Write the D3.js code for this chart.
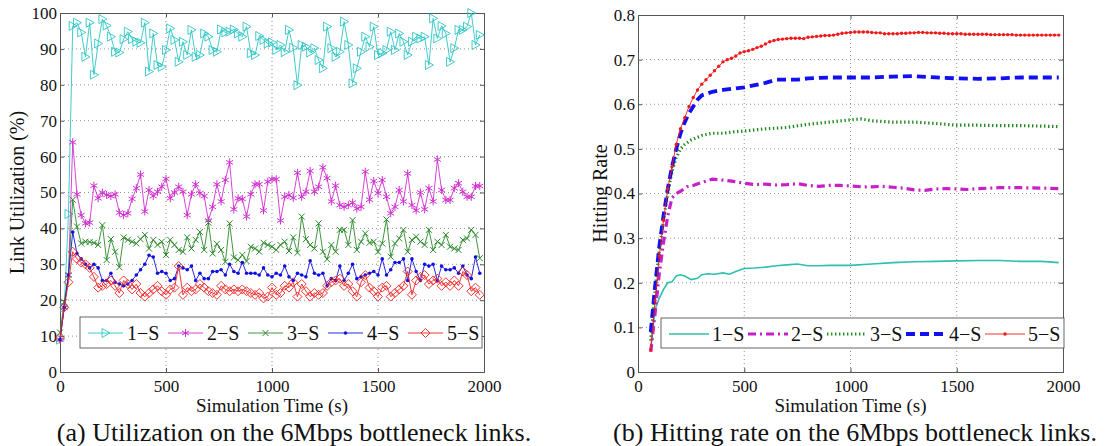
<!DOCTYPE html>
<html>
<head>
<meta charset="utf-8">
<script src="https://cdn.jsdelivr.net/npm/d3@7"></script>
<style>
  body { margin: 0; background: #fff; }
  svg text { font-family: "Liberation Serif", "Times New Roman", serif; fill: #111; }
</style>
</head>
<body>
<svg id="fig" width="1119" height="446"></svg>
<script>
// ---- (a) link utilization, one sample every 20 s ----
let timeA = d3.range(0, 2000, 20);

let util1S = [9, 18, 44,
  96.4, 97.3, 94.6, 87.8, 97.3, 82.8, 91.5, 98.3, 96.5, 93.4, 89.2, 89, 92.7, 94.8, 92.7, 92, 91.7, 97.3, 83.7, 94.3, 85.5, 85,
  89.7, 95.7, 92.5, 86.4, 92, 88.3, 95.3, 87.8, 88.3, 94.3, 93.4, 89.7, 89.2, 95.4, 94.6, 94.8, 95.4, 94.3, 93.4, 96.2, 88.8, 88.3,
  93.6, 92.5, 91.5, 91.8, 89.7, 91.1, 89.1, 95.3, 90.3, 79.9, 91.1, 90.6, 89, 90.2, 86.9, 84.6, 96.2, 90.2, 87.8, 89.2, 97.6, 91.1,
  80.4, 84.6, 89.2, 93.4, 90.6, 96.2, 88.3, 88.8, 89.7, 94.8, 89.7, 94.3, 92, 88.3, 92, 93.4, 92.9, 93.4, 85.5, 98.5, 92.9, 96.4,
  94.3, 86.4, 90.2, 95.3, 95.3, 96.2, 100, 91.1, 93.9];

let util2S = [9, 18, 27, 64, 49.5, 43.7, 41.4, 41.6, 51.9, 48.4, 50, 49.3, 49, 49.5, 44.4, 43.7, 44.2, 48.2, 51.2, 55,
  44.7, 50.7, 49, 50.2, 51.6, 53.8, 48.4, 50, 51.6, 50.2, 43.7, 49.5, 52.3, 49.8, 49, 42.2, 46, 52.3, 47.5, 53.5,
  58.4, 45.3, 48.4, 48.2, 43.3, 49.5, 52.3, 52.3, 45, 53, 53.7, 53.7, 42.2, 48.8, 49.3, 48.5, 55.5, 48.8, 50.2, 56,
  50.2, 51.6, 57, 54, 47.5, 51.9, 46.5, 46, 46.5, 47.2, 45.5, 46, 55.8, 48, 53.2, 49.8, 53.5, 48.8, 44.2, 46,
  50.7, 47.5, 55.3, 46.5, 45, 50, 45.3, 51.2, 47.5, 59.2, 50.7, 47.9, 47.9, 51.2, 52.6, 50.2, 48.8, 48.8, 51.8, 51.8];

let util3S = [11, 19.5, 27, 48, 40.5, 35.8, 36.3, 36.2, 36, 35.4, 40.9, 31.2, 37, 33.5, 29.2, 37.5, 36.8, 36.3, 35.8, 37,
  38.2, 34.4, 36.8, 35.4, 36.3, 32.6, 36.8, 35.4, 34, 33.5, 37.5, 34.4, 36.8, 39, 34, 41.6, 33, 35.7, 34, 30.7,
  41.4, 31.9, 31.2, 32.6, 30.9, 34.9, 34.4, 33.5, 36, 35.4, 34.9, 34, 35.4, 36.3, 33.7, 37.5, 33.2, 43.3, 37, 35.4,
  34.4, 41.4, 33.5, 31.4, 35.4, 33.5, 39.6, 39.6, 35.4, 42.3, 34, 36.3, 38.6, 36, 36.3, 33.5, 35.8, 42.5, 32.1, 35.8,
  37.2, 39.6, 33.5, 36.8, 37.7, 36.3, 35.4, 39.6, 34, 36.3, 35.4, 38.2, 34.9, 34.4, 34, 36.8, 37.2, 39.6, 38.2, 31.7];

let util4S = [9, 18, 27, 39, 33, 31.5, 30, 29, 30, 29, 25.5, 25.5, 27.5, 25, 24.5, 24, 24.5, 25.5, 27, 28.5,
  30, 32.5, 32, 27.5, 28, 27.5, 25.5, 26, 29.5, 29, 28.5, 29.5, 25.5, 27.5, 26, 26, 28, 28, 28.5, 27,
  30, 28, 27.5, 30.5, 27.5, 27.5, 27.5, 27, 29, 27, 26.5, 27.5, 27, 29.5, 26.5, 25.5, 27.5, 27, 26.5, 31,
  27.5, 27, 27.5, 24, 26, 25.5, 29.5, 25.5, 27.5, 30, 26, 26.5, 27, 27.5, 28, 27, 31.5, 27, 28.5, 30.5,
  30.5, 31.5, 25.5, 31.5, 28, 25.5, 30, 29.5, 30, 25.5, 29.5, 28.5, 28.5, 29, 27.5, 29.5, 27, 26, 32, 27.5];

let util5S = [9.5, 18, 25, 33.5, 31.5, 30.5, 30, 29, 26.5, 23.5, 24, 24.5, 25.5, 24, 22, 25.5, 24.5, 23, 24.5, 22,
  21, 22, 23, 24, 22.5, 21.5, 23, 23.5, 29.5, 21.5, 23.5, 22.5, 23, 24.5, 23.5, 22.5, 22, 21.5, 24, 23,
  22.5, 23, 22.5, 23, 22.5, 22, 21.5, 22, 20.5, 21, 23.5, 21.5, 22, 24, 23.5, 25, 21, 24.5, 22.5, 21,
  22, 21.5, 22, 24, 25, 25.5, 26, 24, 24.5, 22.5, 21, 25, 27, 23.5, 22.5, 21, 23.5, 24, 21, 22,
  23, 24, 28, 21.5, 25.5, 26.5, 27, 24.5, 25.5, 26, 24, 25, 24, 25.5, 24, 28, 27, 22.5, 23.5, 21.5];

// ---- (b) hitting rate ----
let timeB5 = d3.range(60, 2000, 20);
let hit5S = [0.05, 0.16, 0.26, 0.34, 0.41, 0.46, 0.51, 0.545, 0.57, 0.595, 0.615, 0.632, 0.645, 0.655, 0.665, 0.675, 0.685, 0.695,
  0.70, 0.703, 0.708, 0.715, 0.718, 0.72, 0.723, 0.727, 0.73, 0.735, 0.74, 0.743, 0.745, 0.746, 0.747, 0.748, 0.748, 0.748,
  0.747, 0.75, 0.751, 0.752, 0.753, 0.754, 0.754, 0.755, 0.757, 0.759, 0.76, 0.761, 0.762, 0.762, 0.762, 0.762, 0.761, 0.76,
  0.76, 0.758, 0.758, 0.758, 0.758, 0.759, 0.759, 0.76, 0.76, 0.761, 0.761, 0.76, 0.76, 0.76, 0.759, 0.759, 0.758, 0.758,
  0.758, 0.758, 0.757, 0.757, 0.757, 0.757, 0.757, 0.757, 0.756, 0.756, 0.756, 0.756, 0.756, 0.756, 0.755, 0.755, 0.755,
  0.755, 0.755, 0.755, 0.755, 0.755, 0.755, 0.755, 0.755];

let timeB4 = [60, 80, 100, 120, 140, 160, 180, 200, 220, 240, 260, 280, 300, 350, 400, 450, 500, 550, 600, 650, 700, 750, 800, 900,
  1000, 1100, 1200, 1300, 1400, 1500, 1600, 1700, 1800, 1900, 1980];
let hit4S = [0.09, 0.19, 0.28, 0.35, 0.41, 0.46, 0.50, 0.535, 0.56, 0.58, 0.595, 0.61, 0.62, 0.628, 0.632, 0.635, 0.638, 0.643,
  0.648, 0.655, 0.655, 0.655, 0.658, 0.66, 0.66, 0.66, 0.662, 0.663, 0.66, 0.658, 0.657, 0.658, 0.66, 0.66, 0.66];

let timeB3 = [60, 80, 100, 120, 140, 160, 180, 200, 220, 250, 300, 350, 400, 450, 500, 600, 700, 800, 900, 1000, 1050, 1100,
  1200, 1300, 1400, 1500, 1600, 1700, 1800, 1900, 1980];
let hit3S = [0.07, 0.18, 0.27, 0.34, 0.40, 0.45, 0.48, 0.50, 0.51, 0.52, 0.53, 0.535, 0.535, 0.538, 0.54, 0.545, 0.548, 0.555,
  0.56, 0.565, 0.567, 0.563, 0.56, 0.56, 0.557, 0.553, 0.553, 0.552, 0.552, 0.551, 0.55];

let timeB2 = [60, 80, 100, 120, 140, 160, 180, 200, 230, 260, 300, 350, 400, 450, 500, 550, 600, 650, 700, 750, 800, 850, 900,
  950, 1000, 1050, 1100, 1150, 1200, 1250, 1300, 1350, 1400, 1450, 1500, 1550, 1600, 1700, 1800, 1900, 1980];
let hit2S = [0.045, 0.13, 0.22, 0.29, 0.35, 0.39, 0.40, 0.405, 0.415, 0.418, 0.425, 0.432, 0.43, 0.427, 0.423, 0.42, 0.421,
  0.419, 0.42, 0.422, 0.418, 0.416, 0.418, 0.418, 0.417, 0.415, 0.415, 0.416, 0.414, 0.412, 0.408, 0.407, 0.41, 0.411, 0.41,
  0.409, 0.411, 0.413, 0.413, 0.412, 0.411];

let timeB1 = [60, 80, 100, 120, 140, 160, 180, 200, 220, 250, 280, 300, 330, 360, 400, 430, 460, 500, 550, 600, 650, 700, 750,
  800, 850, 900, 1000, 1100, 1200, 1300, 1400, 1500, 1600, 1700, 1800, 1900, 1980];
let hit1S = [0.05, 0.14, 0.165, 0.185, 0.2, 0.202, 0.215, 0.218, 0.215, 0.207, 0.21, 0.218, 0.22, 0.219, 0.222, 0.219, 0.225,
  0.232, 0.233, 0.235, 0.238, 0.24, 0.242, 0.238, 0.238, 0.239, 0.239, 0.242, 0.245, 0.247, 0.248, 0.249, 0.25, 0.25, 0.248,
  0.248, 0.245];

let seriesNames = ["1\u2212S", "2\u2212S", "3\u2212S", "4\u2212S", "5\u2212S"];
let xTicks = [0, 500, 1000, 1500, 2000];
let yTicksA = d3.range(0, 101, 10);
let yTicksB = [0, 0.1, 0.2, 0.3, 0.4, 0.5, 0.6, 0.7, 0.8];

let svg = d3.select("#fig");

// draws the box, grid, ticks and labels of one panel, returns scales
function panel(box, yDomain, yTicks, yFmt, yLabel, labelGap, caption) {
  let x = d3.scaleLinear().domain([0, 2000]).range([box.left, box.right]);
  let y = d3.scaleLinear().domain(yDomain).range([box.bottom, box.top]);
  let g = svg.append("g");

  // grid
  g.selectAll(".gx").data(xTicks.slice(1, -1)).enter().append("line")
    .attr("x1", d => x(d)).attr("x2", d => x(d))
    .attr("y1", box.top).attr("y2", box.bottom)
    .attr("stroke", "#777").attr("stroke-width", 0.8).attr("stroke-dasharray", "1,3");
  g.selectAll(".gy").data(yTicks.slice(1, -1)).enter().append("line")
    .attr("y1", d => y(d)).attr("y2", d => y(d))
    .attr("x1", box.left).attr("x2", box.right)
    .attr("stroke", "#777").attr("stroke-width", 0.8).attr("stroke-dasharray", "1,3");

  // axes, ticks pointing inward
  let ax = g.append("g").attr("transform", `translate(0,${box.bottom})`)
    .call(d3.axisBottom(x).tickValues(xTicks).tickSize(-4).tickPadding(8).tickFormat(d3.format("d")));
  let axT = g.append("g").attr("transform", `translate(0,${box.top})`)
    .call(d3.axisTop(x).tickValues(xTicks).tickSize(-4).tickFormat(""));
  let ay = g.append("g").attr("transform", `translate(${box.left},0)`)
    .call(d3.axisLeft(y).tickValues(yTicks).tickSize(-4).tickPadding(3).tickFormat(yFmt));
  let ayR = g.append("g").attr("transform", `translate(${box.right},0)`)
    .call(d3.axisRight(y).tickValues(yTicks).tickSize(-4).tickFormat(""));
  [ax, axT, ay, ayR].forEach(a => {
    a.select(".domain").attr("stroke", "#555");
    a.selectAll(".tick line").attr("stroke", "#555");
    a.selectAll("text").attr("font-size", 17).attr("font-family", "Liberation Serif").attr("fill", "#111");
  });

  g.append("text").attr("x", (box.left + box.right) / 2).attr("y", box.bottom + 40)
    .attr("text-anchor", "middle").attr("font-size", 19).text("Simulation Time (s)");
  g.append("text")
    .attr("transform", `translate(${box.left - labelGap},${(box.top + box.bottom) / 2}) rotate(-90)`)
    .attr("text-anchor", "middle").attr("font-size", 20).text(yLabel);
  g.append("text").attr("x", caption.x).attr("y", 441)
    .attr("text-anchor", "middle").attr("font-size", 26).text(caption.text);
  return { x, y };
}

// ---------- panel (a) ----------
let boxA = { left: 60, right: 484, top: 13, bottom: 372 };
let pa = panel(boxA, [0, 100], yTicksA, d3.format("d"), "Link Utilization (%)", 36,
  { x: 294, text: "(a) Utilization on the 6Mbps bottleneck links." });

let colA = ["#2cc6c6", "#d030d0", "#2a8a2a", "#1010e0", "#f02020"];
let valsA = [util1S, util2S, util3S, util4S, util5S];

function marker(sel, k, color) {
  if (k === 0) {
    sel.append("path").attr("d", "M-3.5,-4.5 L4.5,0 L-3.5,4.5 Z")
      .attr("fill", "none").attr("stroke", color).attr("stroke-width", 0.9);
  } else if (k === 1) {
    sel.append("path").attr("d", "M0,-4 L0,4 M-3.5,-2 L3.5,2 M-3.5,2 L3.5,-2")
      .attr("stroke", color).attr("stroke-width", 1);
  } else if (k === 2) {
    sel.append("path").attr("d", "M-3,-3 L3,3 M-3,3 L3,-3")
      .attr("stroke", color).attr("stroke-width", 1);
  } else if (k === 3) {
    sel.append("circle").attr("r", 1.8).attr("fill", color);
  } else {
    sel.append("path").attr("d", "M0,-4.5 L4.5,0 L0,4.5 L-4.5,0 Z")
      .attr("fill", "none").attr("stroke", color).attr("stroke-width", 0.9);
  }
}

let lineA = d3.line().x((d, i) => pa.x(timeA[i])).y(d => pa.y(d));
valsA.forEach((vals, k) => {
  let g = svg.append("g");
  g.append("path").datum(vals).attr("d", lineA)
    .attr("fill", "none").attr("stroke", colA[k]).attr("stroke-width", 0.9);
  g.selectAll("g.m").data(vals).enter().append("g")
    .attr("transform", (d, i) => `translate(${pa.x(timeA[i])},${pa.y(d)})`)
    .each(function () { marker(d3.select(this), k, colA[k]); });
});

// legend (a)
let legA = svg.append("g");
legA.append("rect").attr("x", 80).attr("y", 317).attr("width", 402).attr("height", 31)
  .attr("fill", "#fff").attr("stroke", "#555").attr("stroke-width", 0.9);
seriesNames.forEach((name, k) => {
  let x0 = 88 + k * 80;
  legA.append("line").attr("x1", x0).attr("x2", x0 + 35).attr("y1", 333).attr("y2", 333)
    .attr("stroke", colA[k]).attr("stroke-width", 0.9);
  let m = legA.append("g").attr("transform", `translate(${x0 + 17.5},333)`);
  marker(m, k, colA[k]);
  legA.append("text").attr("x", x0 + 39).attr("y", 340).attr("font-size", 20).text(name);
});

// ---------- panel (b) ----------
let boxB = { left: 638, right: 1063, top: 15, bottom: 372 };
let pb = panel(boxB, [0, 0.8], yTicksB, d3.format(".1f"), "Hitting Rate", 31,
  { x: 855, text: "(b) Hitting rate on the 6Mbps bottleneck links." });
// axis shows 0 rather than 0.0
svg.selectAll("g.tick text").filter(function () { return this.textContent === "0.0"; }).text("0");

let styleB = [
  { t: timeB1, v: hit1S, color: "#2ebfae", width: 1.6, dash: null },
  { t: timeB2, v: hit2S, color: "#c81fc8", width: 3.2, dash: "8,4,2,4" },
  { t: timeB3, v: hit3S, color: "#1f8a1f", width: 3.2, dash: "1.4,2.6" },
  { t: timeB4, v: hit4S, color: "#1010f0", width: 3.8, dash: "9,5" },
  { t: timeB5, v: hit5S, color: "#f01818", width: 0.9, dash: null }
];

styleB.forEach(s => {
  let line = d3.line().x((d, i) => pb.x(s.t[i])).y(d => pb.y(d));
  svg.append("path").datum(s.v).attr("d", line)
    .attr("fill", "none").attr("stroke", s.color).attr("stroke-width", s.width)
    .attr("stroke-dasharray", s.dash);
});
svg.append("g").selectAll("circle").data(hit5S).enter().append("circle")
  .attr("cx", (d, i) => pb.x(timeB5[i])).attr("cy", d => pb.y(d))
  .attr("r", 1.7).attr("fill", "#f01818");

// legend (b)
let legB = svg.append("g");
legB.append("rect").attr("x", 661).attr("y", 318).attr("width", 403).attr("height", 30)
  .attr("fill", "#fff").attr("stroke", "#555").attr("stroke-width", 0.9);
seriesNames.forEach((name, k) => {
  let x0 = 669 + k * 79;
  let s = styleB[k];
  legB.append("line").attr("x1", x0).attr("x2", x0 + 40).attr("y1", 334).attr("y2", 334)
    .attr("stroke", s.color).attr("stroke-width", s.width).attr("stroke-dasharray", s.dash);
  if (k === 4) legB.append("circle").attr("cx", x0 + 20).attr("cy", 334).attr("r", 1.7).attr("fill", s.color);
  legB.append("text").attr("x", x0 + 43).attr("y", 341).attr("font-size", 20).text(name);
});
</script>
</body>
</html>
